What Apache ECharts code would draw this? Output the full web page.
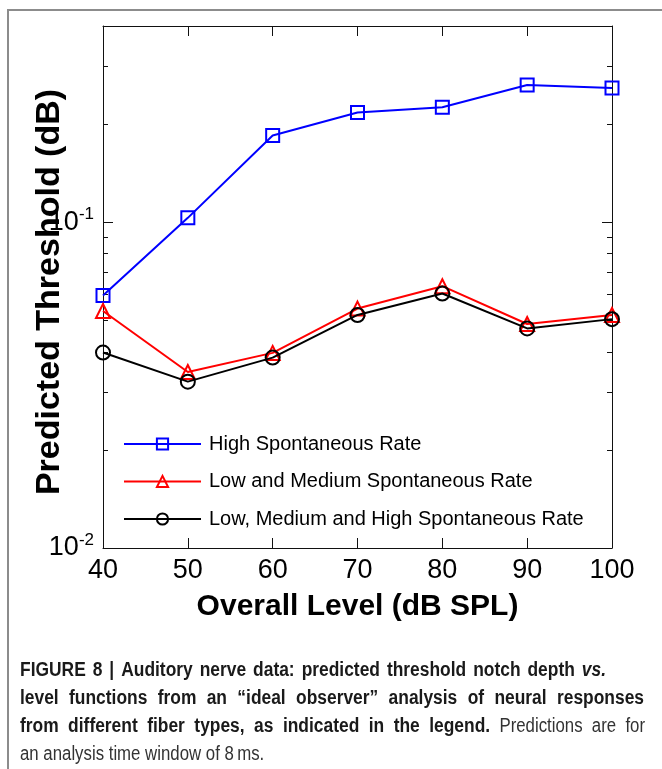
<!DOCTYPE html>
<html>
<head>
<meta charset="utf-8">
<script src="https://cdn.jsdelivr.net/npm/echarts@6/dist/echarts.min.js"></script>
<style>
  html, body { margin: 0; padding: 0; background: #fff; }
  #chart { width: 662px; height: 769px; }
</style>
</head>
<body>
<div id="chart"></div>
<script>
// Sound level (dB SPL) for each prediction
const levels = [40, 50, 60, 70, 80, 90, 100];
// Predicted threshold notch depth (dB) per fiber group
const highSR = [0.0596, 0.1031, 0.1846, 0.217, 0.2254, 0.2636, 0.2582];
const lowMedSR = [0.0534, 0.0347, 0.0397, 0.0543, 0.0636, 0.0487, 0.0519];
const allSR = [0.0398, 0.0324, 0.0384, 0.0519, 0.0604, 0.0472, 0.0504];
const seriesNames = [
  'High Spontaneous Rate',
  'Low and Medium Spontaneous Rate',
  'Low, Medium and High Spontaneous Rate'
];
// Axis tick positions
const xTicks = [40, 50, 60, 70, 80, 90, 100];
const yMajorTicks = [0.01, 0.1];
const yMinorTicks = [0.02, 0.03, 0.04, 0.05, 0.06, 0.07, 0.08, 0.09, 0.2, 0.3];
const yRange = [0.01, 0.4];

// Figure caption, one entry per printed line; each segment carries its weight
const captionLines = [
  [{ t: 'FIGURE 8 | Auditory nerve data: predicted threshold notch depth', b: true },
   { t: 'vs.', b: true, i: true }],
  [{ t: 'level functions from an \u201cideal observer\u201d analysis of neural responses', b: true }],
  [{ t: 'from different fiber types, as indicated in the legend.', b: true },
   { t: 'Predictions are for', b: false }],
  [{ t: 'an analysis time window of 8\u2009ms.', b: false }]
];

const FONT = 'Arial, "Liberation Sans", Helvetica, sans-serif';

const chart = echarts.init(document.getElementById('chart'), null, { renderer: 'canvas' });

function pairs(ys) { return levels.map((x, i) => [x, ys[i]]); }

function logAxis(position, ticks, len, showLabels, showLine) {
  return {
    type: 'log',
    logBase: 10,
    position: position,
    min: yRange[0],
    max: yRange[1],
    axisLine: { show: showLine, onZero: false, lineStyle: { color: '#111', width: 1 } },
    axisTick: { show: true, inside: true, length: len, customValues: ticks,
                lineStyle: { color: '#111', width: 1 } },
    axisLabel: showLabels ? {
      show: true,
      customValues: yMajorTicks,
      margin: 9,
      formatter: v => '{b|10}{s|' + Math.round(Math.log10(v)) + '}',
      rich: {
        b: { fontFamily: FONT, fontSize: 27, color: '#000', lineHeight: 30 },
        s: { fontFamily: FONT, fontSize: 17, color: '#000', lineHeight: 30, padding: [0, 0, 16, 0] }
      }
    } : { show: false },
    splitLine: { show: false },
    minorTick: { show: false }
  };
}

function valueX(position, showLabels) {
  return {
    type: 'value',
    position: position,
    min: 40,
    max: 100,
    interval: 10,
    axisLine: { show: true, onZero: false, lineStyle: { color: '#111', width: 1 } },
    axisTick: { show: true, inside: true, length: 10, customValues: xTicks,
                lineStyle: { color: '#111', width: 1 } },
    axisLabel: showLabels ? { show: true, margin: 9, fontFamily: FONT, fontSize: 27, color: '#000' }
                          : { show: false },
    splitLine: { show: false }
  };
}

const colors = ['#0000ff', '#ff0000', '#000000'];
const symbols = ['rect', 'triangle', 'circle'];
const sizes = [13, 14, 14];
const datasets = [highSR, lowMedSR, allSR];

const x0 = valueX('bottom', true);
x0.name = 'Overall Level (dB SPL)';
x0.nameLocation = 'middle';
x0.nameGap = 44;
x0.nameMoveOverlap = false;
x0.nameTextStyle = { fontFamily: FONT, fontSize: 30, fontWeight: 'bold', color: '#000' };

const y0 = logAxis('left', yMajorTicks, 10, true, true);
y0.name = 'Predicted Threshold (dB)';
y0.nameLocation = 'middle';
y0.nameGap = 36;
y0.nameMoveOverlap = false;
y0.nameTextStyle = { fontFamily: FONT, fontSize: 34, fontWeight: 'bold', color: '#000',
                     padding: [0, 10, 0, 0] };

// Caption: Arial squeezed to a condensed width, justified within the text column
const CAP_SIZE = 20;
const SCALE_BOLD = 0.87;
const SCALE_REG = 0.84;
const CAP_LEFT = 20;
const CAP_TOP = 670;
const CAP_LEAD = 28.3;
const lineEnds = [606, 644, 645, null];
const measureCtx = document.createElement('canvas').getContext('2d');
function capFont(w) {
  return (w.i ? 'italic ' : '') + (w.b ? 'bold ' : '') + CAP_SIZE + 'px ' + FONT;
}
function capScale(w) { return w.b ? SCALE_BOLD : SCALE_REG; }
function textWidth(w, str) {
  measureCtx.font = capFont(w);
  return measureCtx.measureText(str).width * capScale(w);
}
const captionGraphics = [];
captionLines.forEach((segs, li) => {
  const words = [];
  segs.forEach(s => s.t.split(' ').forEach(t => words.push({ t: t, b: s.b, i: s.i })));
  const widths = words.map(w => textWidth(w, w.t));
  const spaces = words.slice(1).map(w => textWidth(w, ' '));
  const natural = widths.reduce((a, c) => a + c, 0) + spaces.reduce((a, c) => a + c, 0);
  let extra = 0;
  if (lineEnds[li] !== null && words.length > 1) {
    extra = (lineEnds[li] - CAP_LEFT - natural) / (words.length - 1);
  }
  let x = CAP_LEFT;
  words.forEach((w, k) => {
    captionGraphics.push({
      type: 'text', x: x, y: CAP_TOP + li * CAP_LEAD, scaleX: capScale(w), silent: true,
      style: {
        text: w.t,
        fontFamily: FONT,
        fontSize: CAP_SIZE,
        fontWeight: w.b ? 'bold' : 'normal',
        fontStyle: w.i ? 'italic' : 'normal',
        fill: w.b ? '#1a1a1a' : '#333',
        textVerticalAlign: 'middle'
      }
    });
    if (k < words.length - 1) x += widths[k] + spaces[k] + extra;
  });
});

chart.setOption({
  backgroundColor: '#fff',
  animation: false,
  grid: { left: 103, top: 26, right: 50, bottom: 221, containLabel: false, outerBoundsMode: 'none' },
  xAxis: [x0, valueX('top', false)],
  yAxis: [
    y0,
    logAxis('left', yMinorTicks, 5, false, false),
    logAxis('right', yMajorTicks, 10, false, true),
    logAxis('right', yMinorTicks, 5, false, false)
  ],
  legend: {
    data: seriesNames,
    orient: 'vertical',
    left: 118,
    top: 429,
    itemWidth: 77,
    itemHeight: 14,
    itemGap: 17.5,
    selectedMode: false,
    textStyle: { fontFamily: FONT, fontSize: 20, color: '#000', lineHeight: 20, padding: [0, 0, 0, 3] }
  },
  series: datasets.map((d, i) => ({
    name: seriesNames[i],
    type: 'line',
    xAxisIndex: 0,
    yAxisIndex: 0,
    data: pairs(d),
    symbol: symbols[i],
    symbolSize: sizes[i],
    showAllSymbol: true,
    lineStyle: { color: colors[i], width: 2 },
    itemStyle: { color: 'none', borderColor: colors[i], borderWidth: 2 },
    emphasis: { disabled: true },
    z: 2 + i
  })),
  graphic: [
    {
      type: 'rect', silent: true, z: -1,
      shape: { x: 8, y: 10, width: 700, height: 800 },
      style: { fill: 'none', stroke: '#8c8c8c', lineWidth: 2 }
    }
  ].concat(captionGraphics)
});
</script>
</body>
</html>
